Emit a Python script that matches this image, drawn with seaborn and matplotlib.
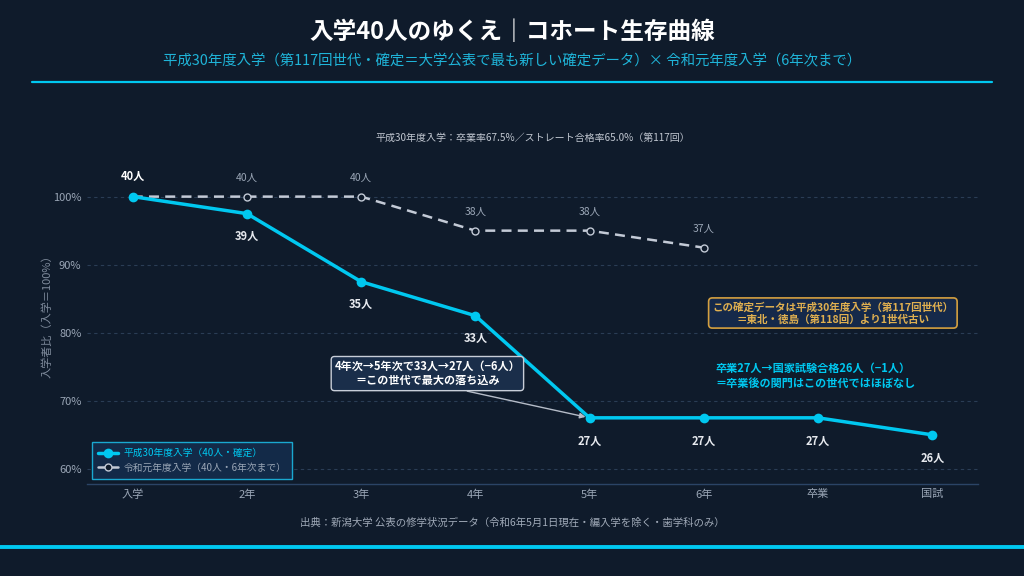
import matplotlib
matplotlib.use("Agg")
import matplotlib.pyplot as plt
import seaborn as sns
import pandas as pd
from matplotlib.lines import Line2D

# data
stages = ["入学", "2年", "3年", "4年", "5年", "6年", "卒業", "国試"]
h30_people = [40, 39, 35, 33, 27, 27, 27, 26]
r1_people = [40, 40, 40, 38, 38, 37]
base = 40

BG = "#0f1b2b"
CYAN = "#00c8f0"
GREY = "#c3cad6"
TICK = "#9aa6b6"
GOLD = "#e0b050"

sns.set_theme(style="dark")
plt.rcParams["font.family"] = ["Noto Sans CJK JP", "DejaVu Sans"]

df_h30 = pd.DataFrame({"x": range(len(h30_people)),
                       "pct": [p / base * 100 for p in h30_people],
                       "n": h30_people})
df_r1 = pd.DataFrame({"x": range(len(r1_people)),
                      "pct": [p / base * 100 for p in r1_people],
                      "n": r1_people})

fig = plt.figure(figsize=(10.24, 5.76), dpi=100, facecolor=BG)
ax = fig.add_axes([0.085, 0.16, 0.87, 0.592])
ax.set_facecolor(BG)

sns.lineplot(data=df_r1, x="x", y="pct", ax=ax, color=GREY, linewidth=1.8,
             linestyle=(0, (4, 2.5)), marker="o", markersize=5,
             markerfacecolor=BG, markeredgecolor=GREY, markeredgewidth=1.0, zorder=3)
sns.lineplot(data=df_h30, x="x", y="pct", ax=ax, color=CYAN, linewidth=2.5,
             marker="o", markersize=7, markeredgewidth=0, zorder=4)

# point labels
for i, (x, y, n) in enumerate(zip(df_h30["x"], df_h30["pct"], df_h30["n"])):
    if i == 0:
        ax.annotate(f"{n}人", (x, y), xytext=(0, 10), textcoords="offset points",
                    ha="center", va="bottom", color="white", fontsize=8, fontweight="bold")
    else:
        ax.annotate(f"{n}人", (x, y), xytext=(0, -12), textcoords="offset points",
                    ha="center", va="top", color="#e6e9ee", fontsize=8, fontweight="bold")
for i, (x, y, n) in enumerate(zip(df_r1["x"], df_r1["pct"], df_r1["n"])):
    if i == 0:
        continue
    ax.annotate(f"{n}人", (x, y), xytext=(0, 10), textcoords="offset points",
                ha="center", va="bottom", color=TICK, fontsize=7.5)

ax.set_xlim(-0.4, 7.4)
ax.set_ylim(57.8, 107.9)
ax.set_xticks(range(len(stages)))
ax.set_xticklabels(stages)
ax.set_yticks([60, 70, 80, 90, 100])
ax.set_yticklabels([f"{v}%" for v in [60, 70, 80, 90, 100]])
ax.tick_params(colors=TICK, labelsize=8, length=0, pad=4)
ax.set_xlabel("")
ax.set_ylabel("入学者比（入学＝100%）", color="#7f8b9c", fontsize=8, labelpad=0)
ax.grid(axis="y", color="#2a3d55", linestyle=(0, (3, 3)), linewidth=0.8)
ax.grid(axis="x", visible=False)
for s in ["top", "right", "left"]:
    ax.spines[s].set_visible(False)
ax.spines["bottom"].set_color("#2b4466")
ax.spines["bottom"].set_linewidth(1)

# notes
ax.text(0.5, 1.0, "平成30年度入学：卒業率67.5%／ストレート合格率65.0%（第117回）",
        transform=ax.transAxes, ha="center", va="bottom", color="#c0c6d0", fontsize=7.2)

ax.annotate("4年次→5年次で33人→27人（−6人）\n＝この世代で最大の落ち込み",
            xy=(4, 67.5), xytext=(2.58, 74.0), ha="center", va="center",
            color="white", fontsize=8, fontweight="bold", linespacing=1.15,
            bbox=dict(boxstyle="round,pad=0.3", fc="#1a2e4a", ec="#c8ced8", lw=1),
            arrowprops=dict(arrowstyle="-|>", color="#b5bcc8", lw=1, relpos=(0.62, 0),
                            shrinkA=0, shrinkB=3, mutation_scale=8),
            zorder=5)

ax.text(6.13, 82.9, "この確定データは平成30年度入学（第117回世代）\n＝東北・徳島（第118回）より1世代古い",
        ha="center", va="center", color=GOLD, fontsize=7.6, fontweight="bold", linespacing=1.2,
        bbox=dict(boxstyle="round,pad=0.35", fc="#15294a", ec="#d4a040", lw=1.2))

ax.text(5.1, 73.6, "卒業27人→国家試験合格26人（−1人）\n＝卒業後の関門はこの世代ではほぼなし",
        ha="left", va="center", color=CYAN, fontsize=8, fontweight="bold", linespacing=1.2)

# legend
handles = [
    Line2D([0], [0], color=CYAN, lw=2.5, marker="o", markersize=7, markeredgewidth=0),
    Line2D([0], [0], color=GREY, lw=1.8, marker="o", markersize=5,
           markerfacecolor=BG, markeredgecolor=GREY),
]
leg = ax.legend(handles, ["平成30年度入学（40人・確定）", "令和元年度入学（40人・6年次まで）"],
                loc="lower left", bbox_to_anchor=(0.006, 0.015), borderaxespad=0,
                fontsize=7, frameon=True, facecolor="#132a48", edgecolor="#1aa8d0",
                framealpha=1, handlelength=2.0, handletextpad=0.6,
                borderpad=0.6, labelspacing=0.5)
leg.get_frame().set_linewidth(1)
leg.get_frame().set_boxstyle("square", pad=0)
leg.get_texts()[0].set_color(CYAN)
leg.get_texts()[1].set_color(TICK)

# header / footer
fig.text(0.5, 0.945, "入学40人のゆくえ｜コホート生存曲線", ha="center", va="center",
         color="white", fontsize=17, fontweight="bold")
fig.text(0.5, 0.893, "平成30年度入学（第117回世代・確定＝大学公表で最も新しい確定データ）× 令和元年度入学（6年次まで）",
         ha="center", va="center", color="#1fb4d8", fontsize=10.4)
fig.add_artist(Line2D([0.031, 0.969], [0.857, 0.857], color=CYAN, lw=1.6,
                      transform=fig.transFigure))
fig.text(0.5, 0.092, "出典：新潟大学 公表の修学状況データ（令和6年5月1日現在・編入学を除く・歯学科のみ）",
         ha="center", va="center", color="#a0aab8", fontsize=7.5)
fig.add_artist(Line2D([0, 1], [0.05, 0.05], color=CYAN, lw=2.8,
                      transform=fig.transFigure))

fig.savefig("out.png", dpi=100, facecolor=BG)
